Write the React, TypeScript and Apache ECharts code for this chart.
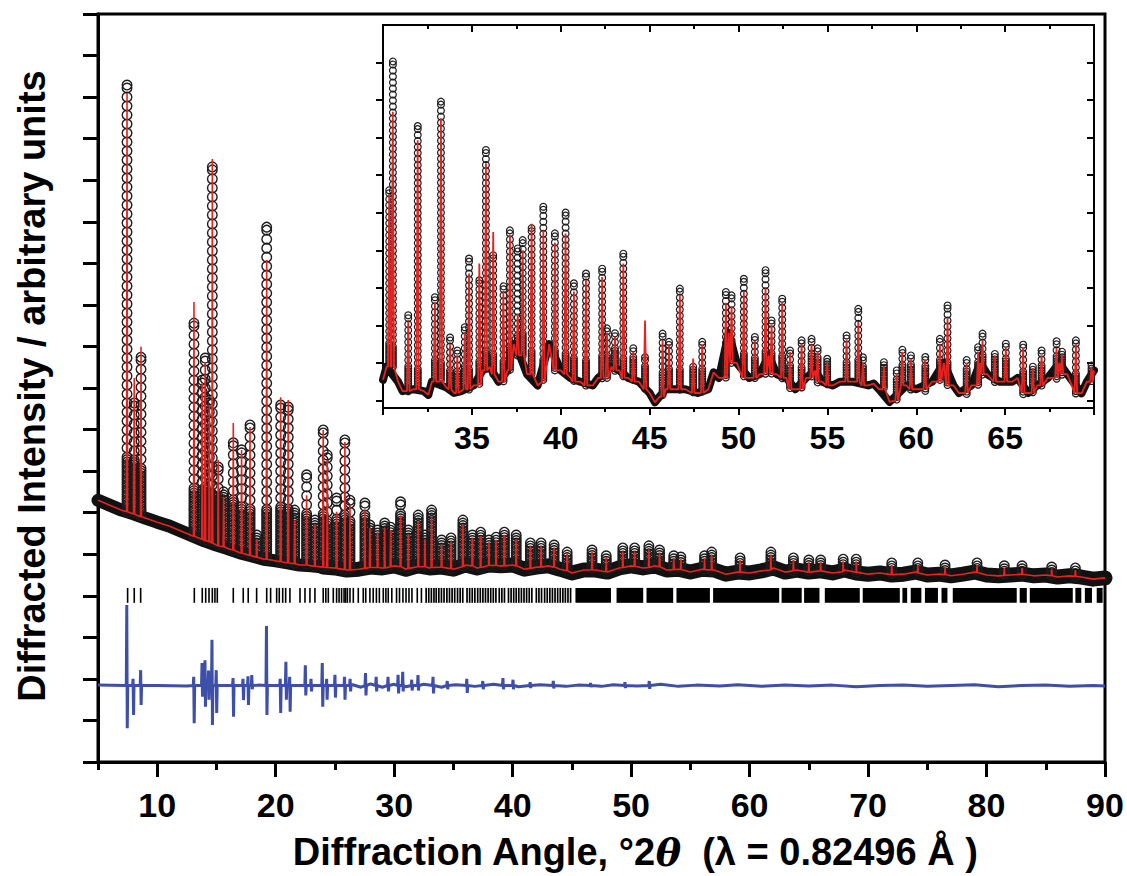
import React, { useEffect, useRef } from 'react';
import * as echarts from 'echarts';

// ---------- main pattern (y in arbitrary units, axis 0..18) ----------
const mainBandX = [5, 6, 7, 8, 9, 10, 11, 12, 13, 14, 15, 16, 17, 18, 19, 20, 21, 22, 23, 24, 25, 26, 27, 28, 29, 30, 31, 32, 33, 34, 35, 36, 37, 38, 39, 40, 41, 42, 43, 44, 45, 46, 47, 48, 49, 50, 51, 52, 53, 54, 55, 56, 57, 58, 59, 60, 61, 62, 63, 64, 65, 66, 67, 68, 69, 70, 71, 72, 73, 74, 75, 76, 77, 78, 79, 80, 81, 82, 83, 84, 85, 86, 87, 88, 89, 90];
const mainBandY = [6.3, 6.18, 6.06, 5.97, 5.87, 5.77, 5.68, 5.56, 5.44, 5.32, 5.22, 5.13, 5.03, 4.96, 4.88, 4.84, 4.79, 4.74, 4.72, 4.69, 4.67, 4.62, 4.64, 4.69, 4.67, 4.72, 4.64, 4.72, 4.67, 4.69, 4.64, 4.74, 4.67, 4.74, 4.72, 4.74, 4.64, 4.69, 4.72, 4.64, 4.55, 4.62, 4.62, 4.57, 4.67, 4.72, 4.67, 4.72, 4.62, 4.64, 4.57, 4.64, 4.62, 4.52, 4.57, 4.55, 4.6, 4.67, 4.57, 4.62, 4.57, 4.6, 4.55, 4.62, 4.55, 4.52, 4.55, 4.5, 4.52, 4.57, 4.5, 4.52, 4.48, 4.52, 4.57, 4.5, 4.48, 4.5, 4.52, 4.48, 4.5, 4.45, 4.48, 4.45, 4.4, 4.43];

const mainPeakX = [7.45, 8.06, 8.63, 13.1, 13.8, 14.05, 14.4, 14.65, 15.15, 15.6, 16.42, 17.12, 17.83, 18.4, 19.24, 20.42, 21.06, 21.6, 22.61, 23.31, 24.01, 24.35, 25.14, 25.84, 26.27, 27.53, 27.95, 28.6, 29.2, 29.7, 30.54, 31.2, 32.03, 32.6, 33.16, 34.0, 34.8, 35.8, 36.6, 37.3, 38.0, 38.6, 39.3, 40.3, 41.5, 42.4, 43.5, 44.6, 46.7, 47.9, 49.3, 50.3, 51.5, 52.4, 53.6, 54.2, 56.2, 56.8, 59.2, 61.8, 63.7, 65.0, 66.0, 67.9, 69.0, 72.0, 74.2, 76.5, 79.2, 81.5, 83.0, 85.5, 87.5];
const mainPeakBase = [6.02, 5.96, 5.9, 5.43, 5.36, 5.33, 5.3, 5.27, 5.2, 5.18, 5.1, 5.03, 4.97, 4.93, 4.88, 4.82, 4.79, 4.77, 4.74, 4.71, 4.69, 4.68, 4.66, 4.63, 4.62, 4.66, 4.68, 4.68, 4.67, 4.7, 4.7, 4.66, 4.7, 4.7, 4.68, 4.69, 4.65, 4.7, 4.72, 4.68, 4.73, 4.73, 4.72, 4.72, 4.66, 4.69, 4.69, 4.6, 4.62, 4.58, 4.68, 4.71, 4.68, 4.7, 4.63, 4.63, 4.63, 4.62, 4.57, 4.62, 4.6, 4.57, 4.6, 4.58, 4.57, 4.51, 4.55, 4.51, 4.56, 4.49, 4.52, 4.48, 4.47];
const mainPeakObs = [16.29, 8.64, 9.74, 10.56, 9.19, 9.72, 8.71, 14.32, 7.1, 6.5, 7.68, 7.51, 8.11, 5.46, 12.87, 8.59, 8.54, 6.06, 6.91, 5.82, 7.99, 7.39, 6.35, 7.75, 6.3, 6.23, 5.7, 5.58, 5.75, 5.65, 6.26, 5.58, 5.94, 5.46, 6.06, 5.34, 5.39, 5.82, 5.46, 5.53, 5.34, 5.41, 5.53, 5.46, 5.27, 5.27, 5.22, 5.05, 5.1, 4.96, 5.15, 5.15, 5.2, 5.1, 4.96, 4.93, 4.96, 5.05, 4.91, 5.05, 4.91, 4.86, 4.86, 4.88, 4.88, 4.79, 4.79, 4.74, 4.79, 4.72, 4.72, 4.69, 4.67];
const mainPeakCalc = [16.1, 9.24, 9.99, 11.07, 9.12, 9.62, 8.59, 14.51, 7.27, 6.38, 8.16, 7.51, 8.06, 5.34, 12.08, 8.78, 8.71, 5.82, 6.42, 5.7, 7.99, 7.27, 6.02, 7.7, 6.18, 6.06, 5.63, 5.53, 5.63, 5.58, 5.94, 5.46, 5.77, 5.34, 5.87, 5.22, 5.29, 5.7, 5.39, 5.44, 5.29, 5.34, 5.46, 5.34, 5.2, 5.2, 5.15, 5.03, 5.05, 4.93, 5.05, 5.05, 5.1, 5.03, 4.91, 4.88, 4.91, 4.98, 4.86, 4.98, 4.86, 4.81, 4.81, 4.83, 4.83, 4.74, 4.74, 4.69, 4.74, 4.67, 4.67, 4.64, 4.62];

// reflection markers
const reflTickX = [7.5, 8.06, 8.6, 13.13, 13.8, 14.09, 14.37, 14.65, 14.87, 15.07, 16.42, 17.26, 17.68, 18.39, 19.24, 19.57, 20.08, 20.3, 20.59, 20.84, 21.2, 22.05, 22.47, 22.89, 23.31, 24.01, 24.23, 24.44, 24.86, 25.14, 25.35, 25.56, 25.77, 25.9, 26.05, 26.27, 26.55, 26.97, 27.39, 27.6, 27.95, 28.23, 28.5, 28.75, 29.08, 29.3, 29.5, 29.8, 30.2, 30.45, 30.74, 31.0, 31.25, 31.5, 31.95, 32.3];
const reflDenseStart = [32.7, 33.55, 34.45, 35.35, 36.15, 37.05, 38.87, 39.65, 40.3, 41.4, 42.0, 42.7, 43.8, 44.45];
const reflDenseEnd = [33.4, 34.3, 35.2, 36.0, 36.9, 38.6, 39.5, 40.1, 41.2, 41.8, 42.5, 43.6, 44.3, 45.06];
const reflSolidStart = [45.3, 48.77, 51.3, 53.83, 56.92, 62.7, 64.6, 66.35, 69.55, 72.9, 73.6, 74.8, 76.2, 77.15, 82.8, 83.65, 87.5, 88.3, 89.3];
const reflSolidEnd = [48.3, 51.02, 53.55, 56.65, 62.5, 64.4, 65.9, 69.3, 72.68, 73.3, 74.5, 75.9, 76.7, 82.55, 83.4, 87.28, 88.0, 88.9, 89.8];
const reflLow = 3.83;
const reflHigh = 4.19;

// difference curve: flat trace plus spikes (position, maximum, minimum)
const diffZero = 1.84;
const diffBaseX = [5, 10, 12.5, 15.5, 18.5, 22, 26.5, 27.2, 28, 29, 30, 31, 32.5, 34, 35.2, 36.8, 38.4, 40.5, 42.3, 44.5, 45.5, 47.5, 48.5, 50.5, 52.5, 54, 55.5, 57.5, 59, 61, 63, 65, 67, 69, 71, 73, 75, 77, 79, 81, 83, 85, 87, 89, 90];
const diffBaseY = [1.85, 1.84, 1.83, 1.84, 1.85, 1.84, 1.86, 1.8, 1.88, 1.8, 1.87, 1.81, 1.87, 1.8, 1.86, 1.82, 1.87, 1.81, 1.86, 1.82, 1.85, 1.82, 1.86, 1.83, 1.87, 1.82, 1.85, 1.83, 1.86, 1.82, 1.85, 1.83, 1.85, 1.81, 1.84, 1.85, 1.82, 1.84, 1.86, 1.81, 1.84, 1.85, 1.82, 1.84, 1.83];
const diffSpikeX = [7.45, 7.98, 8.62, 13.1, 13.8, 14.05, 14.35, 14.64, 15.0, 16.42, 17.26, 17.68, 18.0, 19.24, 20.4, 20.88, 21.2, 22.52, 23.0, 23.95, 24.32, 25.02, 25.83, 26.3, 27.6, 28.5, 29.5, 30.35, 30.74, 31.5, 32.03, 33.3, 34.5, 36.15, 37.5, 39.2, 40.05, 41.5, 43.45, 46.6, 49.5, 51.55];
const diffSpikeHi = [3.78, 2.0, 2.21, 2.05, 2.38, 2.45, 2.2, 2.94, 2.21, 2.02, 2.0, 2.06, 2.09, 3.27, 2.0, 2.41, 2.05, 2.33, 2.0, 2.38, 2.0, 2.1, 2.05, 2.0, 2.14, 2.05, 2.05, 2.1, 2.17, 1.98, 2.09, 2.05, 1.95, 2.0, 1.95, 2.02, 1.98, 1.92, 1.95, 1.9, 1.92, 1.95];
const diffSpikeLo = [0.81, 1.13, 1.37, 0.93, 1.57, 1.33, 1.5, 0.89, 1.18, 1.09, 1.49, 1.37, 1.75, 1.13, 1.18, 1.5, 1.21, 1.6, 1.7, 1.33, 1.5, 1.55, 1.5, 1.7, 1.6, 1.7, 1.7, 1.65, 1.7, 1.72, 1.72, 1.65, 1.75, 1.66, 1.75, 1.75, 1.75, 1.78, 1.77, 1.8, 1.78, 1.76];

// ---------- inset (30-70 deg, axis -0.2..10) ----------
const insetBandX = [30.0, 30.2, 30.85, 31.1, 31.7, 32.3, 32.55, 32.75, 33.55, 34.0, 34.4, 35.1, 35.6, 36.0, 36.5, 37.0, 37.35, 37.7, 38.1, 38.7, 39.35, 40.0, 40.55, 41.1, 41.8, 42.1, 42.85, 43.3, 43.8, 44.4, 45.0, 45.3, 45.55, 45.9, 46.4, 47.0, 47.7, 48.3, 48.6, 48.9, 49.45, 49.9, 50.6, 51.2, 51.7, 52.15, 52.7, 53.2, 53.8, 54.3, 54.7, 55.3, 55.7, 56.4, 57.3, 57.6, 57.9, 58.5, 59.45, 60.0, 60.9, 61.55, 62.1, 62.4, 63.1, 63.6, 64.0, 64.7, 65.4, 65.7, 66.3, 66.8, 67.4, 68.05, 68.5, 69.3, 69.6, 70.0];
const insetBandY = [0.55, 0.9, 0.5, 0.25, 0.3, 0.25, 0.15, 0.5, 0.35, 0.2, 0.25, 0.4, 0.8, 0.9, 0.5, 0.8, 1.5, 1.2, 0.7, 0.4, 1.5, 0.8, 0.6, 0.5, 0.4, 0.6, 0.9, 0.8, 0.6, 0.5, 0.2, -0.05, 0.1, 0.3, 0.3, 0.3, 0.2, 0.3, 0.75, 0.6, 1.8, 1.0, 0.6, 0.7, 1.2, 0.7, 0.6, 0.3, 0.6, 0.8, 0.5, 0.4, 0.5, 0.5, 0.4, 0.45, 0.3, -0.04, 0.4, 0.3, 0.5, 1.0, 0.4, 0.2, 0.4, 1.0, 0.7, 0.5, 0.5, 0.6, 0.2, 0.4, 0.6, 1.0, 0.7, 0.19, 0.5, 0.8];

const insetPeakX = [30.35, 30.55, 31.42, 31.95, 32.92, 33.26, 33.77, 34.18, 34.6, 34.84, 35.42, 35.79, 36.2, 36.77, 37.14, 37.58, 37.86, 38.36, 39.02, 39.67, 40.27, 40.74, 41.42, 42.33, 42.6, 43.05, 43.52, 44.08, 44.74, 45.73, 46.09, 46.7, 47.45, 47.96, 49.29, 49.61, 50.3, 50.92, 51.52, 51.86, 52.46, 52.9, 53.55, 54.11, 54.45, 54.99, 56.08, 56.74, 57.0, 58.18, 58.9, 59.21, 59.7, 60.49, 61.33, 61.76, 62.83, 63.48, 63.73, 64.42, 65.04, 66.01, 66.56, 67.05, 67.89, 68.2, 68.98, 69.86];
const insetPeakBase = [0.9, 0.9, 0.25, 0.3, 0.5, 0.5, 0.3, 0.2, 0.3, 0.3, 0.4, 0.8, 0.7, 0.5, 0.8, 1.2, 1.2, 0.7, 0.5, 0.8, 0.7, 0.5, 0.4, 0.6, 0.6, 0.8, 0.6, 0.5, 0.3, 0.1, 0.3, 0.3, 0.2, 0.2, 0.6, 1.0, 0.6, 0.6, 0.7, 0.7, 0.6, 0.3, 0.3, 0.6, 0.5, 0.4, 0.5, 0.5, 0.4, 0.3, 0.0, 0.4, 0.3, 0.3, 0.5, 0.4, 0.2, 0.4, 0.7, 0.5, 0.5, 0.2, 0.2, 0.4, 0.6, 0.7, 0.2, 0.5];
const insetPeakObs = [5.6, 9.05, 2.27, 7.33, 2.75, 7.96, 1.69, 1.33, 1.95, 3.78, 3.2, 6.67, 3.87, 3.07, 4.53, 4.05, 4.27, 4.59, 5.16, 4.45, 5.02, 3.12, 3.38, 3.51, 1.92, 1.79, 3.91, 1.39, 1.15, 1.78, 1.56, 2.98, 0.9, 1.56, 2.89, 2.8, 3.24, 1.69, 3.47, 2.13, 2.71, 1.33, 1.6, 1.64, 1.4, 1.11, 1.73, 2.44, 1.15, 1.02, 0.8, 1.38, 1.2, 1.2, 1.64, 2.53, 1.1, 1.42, 1.78, 1.24, 1.51, 1.51, 0.9, 1.33, 1.6, 1.3, 1.6, 0.93];
const insetPeakCalc = [5.5, 7.69, 2.1, 6.93, 2.6, 7.51, 1.5, 1.2, 1.8, 3.38, 3.65, 6.32, 4.49, 2.9, 4.4, 2.3, 4.0, 4.71, 4.53, 4.2, 4.45, 2.9, 3.2, 3.29, 1.8, 1.7, 3.65, 1.3, 2.13, 1.6, 1.5, 2.8, 1.12, 1.5, 2.6, 2.5, 2.9, 1.6, 2.98, 2.0, 2.6, 1.3, 1.5, 1.5, 1.3, 1.0, 1.6, 2.09, 1.0, 0.9, 0.7, 1.3, 1.1, 1.1, 1.5, 2.18, 1.0, 1.3, 1.6, 1.2, 1.4, 1.4, 0.85, 1.2, 1.4, 1.2, 1.5, 0.9];

// axis ticks / labels
const mainMajorTicks = [10, 20, 30, 40, 50, 60, 70, 80, 90];
const insetYTicks = [0, 1, 2, 3, 4, 5, 6, 7, 8, 9];

const FONT = '"Liberation Sans", Arial, sans-serif';
const RED = '#e8231f';
const BLUE = '#3d4fa8';

function profile(bx: number[], by: number[], px: number[], pb: number[], pt: number[], hw: number) {
  const pts: number[][] = bx.map((x, i) => [x, by[i]]);
  px.forEach((x, i) => {
    pts.push([x - hw, pb[i]], [x, pt[i]], [x + hw, pb[i]]);
  });
  pts.sort((a, b) => a[0] - b[0]);
  return pts;
}

function columnRender(r: number, step: number, dense: number, lw: number) {
  return (params: any, api: any) => {
    const x = api.value(0);
    const base = api.value(1);
    const top = api.value(2);
    const pb = api.coord([x, base]);
    const pt = api.coord([x, top]);
    const children: any[] = [];
    let y = pt[1];
    let k = 0;
    while (y <= pb[1] + 0.5) {
      children.push({
        type: 'circle',
        shape: { cx: pt[0], cy: y, r },
        style: { fill: 'none', stroke: '#1c1c1c', lineWidth: lw },
      });
      const rem = pb[1] - y;
      y += k === 0 ? 3 : rem < dense ? 2.5 : step;
      k++;
    }
    return { type: 'group', children };
  };
}

export default function App() {
  const ref = useRef<HTMLDivElement>(null);
  useEffect(() => {
    document.body.style.margin = '0';
    const chart = echarts.init(ref.current!, null, { renderer: 'svg' });

    const mainCalc = profile(mainBandX, mainBandY, mainPeakX, mainPeakBase, mainPeakCalc, 0.04);
    const mainBand = mainBandX.map((x, i) => [x, mainBandY[i]]);
    const splitIdx = mainBandX.indexOf(24);
    const mainBandLow = mainBand.slice(0, splitIdx + 1);
    const mainBandHigh = mainBand.slice(splitIdx);
    const mainCols = mainPeakX.map((x, i) => [x, mainPeakBase[i], mainPeakObs[i]]);
    const insetCalc = profile(insetBandX, insetBandY, insetPeakX, insetPeakBase, insetPeakCalc, 0.07);
    const insetBand = insetBandX.map((x, i) => [x, insetBandY[i]]);
    const insetCols = insetPeakX.map((x, i) => [x, insetPeakBase[i], insetPeakObs[i]]);
    const diff: number[][] = diffBaseX.map((x, i) => [x, diffBaseY[i]]);
    diffSpikeX.forEach((x, i) => {
      diff.push([x - 0.06, diffZero], [x - 0.02, diffSpikeHi[i]], [x + 0.02, diffSpikeLo[i]], [x + 0.06, diffZero]);
    });
    diff.sort((a, b) => a[0] - b[0]);
    const denseBlocks = reflDenseStart.map((s, i) => [s, reflDenseEnd[i]]);
    const solidBlocks = reflSolidStart.map((s, i) => [s, reflSolidEnd[i]]);

    const axLine = (w: number) => ({ show: true, onZero: false, lineStyle: { color: '#000', width: w } });

    chart.setOption({
      animation: false,
      backgroundColor: '#fff',
      grid: [
        { left: 98, top: 14, width: 1007, height: 748, show: true, borderColor: '#000', borderWidth: 3, backgroundColor: 'transparent' },
        { left: 383, top: 25, width: 711, height: 383, show: true, borderColor: '#000', borderWidth: 2, backgroundColor: '#fff' },
      ],
      xAxis: [
        {
          gridIndex: 0, type: 'value', min: 5, max: 90, interval: 5, position: 'bottom',
          axisLine: axLine(3),
          axisTick: { show: true, length: 8, lineStyle: { color: '#000', width: 3 } },
          axisLabel: {
            color: '#000', fontSize: 34, fontWeight: 'bold', fontFamily: FONT, margin: 26,
            formatter: (v: number) => (v % 10 === 0 ? String(v) : ''),
          },
          splitLine: { show: false },
        },
        {
          gridIndex: 0, type: 'value', min: 5, max: 90, position: 'bottom',
          axisLine: { show: false },
          axisTick: { show: true, length: 15, customValues: mainMajorTicks, lineStyle: { color: '#000', width: 3 } },
          axisLabel: { show: false },
          splitLine: { show: false },
        },
        {
          gridIndex: 1, type: 'value', min: 30, max: 70, interval: 5, position: 'bottom',
          axisLine: axLine(2),
          axisTick: { show: true, length: 7, lineStyle: { color: '#000', width: 2 } },
          minorTick: { show: true, splitNumber: 2, length: 4, lineStyle: { color: '#000', width: 2 } },
          axisLabel: { color: '#000', fontSize: 32, fontWeight: 'bold', fontFamily: FONT, margin: 14, showMinLabel: false, showMaxLabel: false },
          splitLine: { show: false },
          minorSplitLine: { show: false },
        },
        {
          gridIndex: 1, type: 'value', min: 30, max: 70, interval: 5, position: 'top',
          axisLine: axLine(2),
          axisTick: { show: true, inside: true, length: 7, lineStyle: { color: '#000', width: 2 } },
          minorTick: { show: true, splitNumber: 2, length: 4, lineStyle: { color: '#000', width: 2 } },
          axisLabel: { show: false },
          splitLine: { show: false },
          minorSplitLine: { show: false },
        },
      ],
      yAxis: [
        {
          gridIndex: 0, type: 'value', min: 0, max: 18, interval: 1,
          axisLine: axLine(3),
          axisTick: { show: true, length: 15, lineStyle: { color: '#000', width: 3 } },
          axisLabel: { show: false },
          splitLine: { show: false },
        },
        {
          gridIndex: 1, type: 'value', min: -0.2, max: 10, position: 'left',
          axisLine: axLine(2),
          axisTick: { show: true, length: 7, customValues: insetYTicks, lineStyle: { color: '#000', width: 2 } },
          axisLabel: { show: false },
          splitLine: { show: false },
        },
        {
          gridIndex: 1, type: 'value', min: -0.2, max: 10, position: 'right',
          axisLine: axLine(2),
          axisTick: { show: true, inside: true, length: 7, customValues: insetYTicks, lineStyle: { color: '#000', width: 2 } },
          axisLabel: { show: false },
          splitLine: { show: false },
        },
      ],
      series: [
        {
          type: 'line', xAxisIndex: 0, yAxisIndex: 0, data: mainBandLow, showSymbol: false, silent: true, z: 2,
          lineStyle: { color: '#111', width: 13, join: 'round', cap: 'round' },
        },
        {
          type: 'line', xAxisIndex: 0, yAxisIndex: 0, data: mainBandHigh, showSymbol: false, silent: true, z: 2,
          lineStyle: { color: '#111', width: 15, join: 'round', cap: 'round' },
        },
        {
          type: 'custom', xAxisIndex: 0, yAxisIndex: 0, data: mainCols, clip: true, silent: true, z: 3,
          encode: { x: 0, y: [1, 2] },
          renderItem: columnRender(4.8, 9, 55, 1.4),
        },
        {
          type: 'line', xAxisIndex: 0, yAxisIndex: 0, data: mainCalc, showSymbol: false, silent: true, z: 4,
          lineStyle: { color: RED, width: 1.6 },
        },
        {
          type: 'custom', xAxisIndex: 0, yAxisIndex: 0, data: reflTickX.map((x) => [x]), silent: true, z: 3,
          encode: { x: 0 },
          renderItem: (params: any, api: any) => {
            const x = api.value(0);
            const p0 = api.coord([x, reflLow]);
            const p1 = api.coord([x, reflHigh]);
            return { type: 'line', shape: { x1: p0[0], y1: p0[1], x2: p1[0], y2: p1[1] }, style: { stroke: '#000', lineWidth: 1.6 } };
          },
        },
        {
          type: 'custom', xAxisIndex: 0, yAxisIndex: 0, data: denseBlocks, silent: true, z: 3,
          encode: { x: [0, 1] },
          renderItem: (params: any, api: any) => {
            const p0 = api.coord([api.value(0), reflHigh]);
            const p1 = api.coord([api.value(1), reflLow]);
            const children: any[] = [];
            for (let xx = p0[0]; xx <= p1[0]; xx += 2.6) {
              children.push({ type: 'line', shape: { x1: xx, y1: p0[1], x2: xx, y2: p1[1] }, style: { stroke: '#000', lineWidth: 1.7 } });
            }
            return { type: 'group', children };
          },
        },
        {
          type: 'custom', xAxisIndex: 0, yAxisIndex: 0, data: solidBlocks, silent: true, z: 3,
          encode: { x: [0, 1] },
          renderItem: (params: any, api: any) => {
            const p0 = api.coord([api.value(0), reflHigh]);
            const p1 = api.coord([api.value(1), reflLow]);
            return { type: 'rect', shape: { x: p0[0], y: p0[1], width: p1[0] - p0[0], height: p1[1] - p0[1] }, style: { fill: '#000' } };
          },
        },
        {
          type: 'line', xAxisIndex: 0, yAxisIndex: 0, data: diff, showSymbol: false, silent: true, z: 4,
          lineStyle: { color: BLUE, width: 3 },
        },
        {
          type: 'line', xAxisIndex: 2, yAxisIndex: 1, data: insetBand, showSymbol: false, silent: true, z: 5,
          lineStyle: { color: '#111', width: 8, join: 'round', cap: 'round' },
        },
        {
          type: 'custom', xAxisIndex: 2, yAxisIndex: 1, data: insetCols, clip: true, silent: true, z: 6,
          encode: { x: 0, y: [1, 2] },
          renderItem: columnRender(3.4, 6, 25, 1.2),
        },
        {
          type: 'line', xAxisIndex: 2, yAxisIndex: 1, data: insetCalc, showSymbol: false, silent: true, z: 7,
          lineStyle: { color: RED, width: 1.8 },
        },
      ],
      graphic: [
        {
          type: 'text', x: 635, y: 852, silent: true,
          style: {
            text: 'Diffraction Angle, °2{i|θ}  (λ = 0.82496 Å )',
            fontSize: 38, fontWeight: 'bold', fontFamily: FONT, fill: '#000',
            align: 'center', verticalAlign: 'middle',
            rich: { i: { fontStyle: 'italic', fontSize: 38, fontWeight: 'bold', fontFamily: '"DejaVu Serif", serif', fill: '#000' } },
          },
        },
        {
          type: 'text', x: 32, y: 386, rotation: Math.PI / 2, silent: true,
          style: {
            text: 'Diffracted Intensity / arbitrary units',
            fontSize: 38, fontWeight: 'bold', fontFamily: FONT, fill: '#000',
            align: 'center', verticalAlign: 'middle',
          },
        },
      ],
    });
    return () => chart.dispose();
  }, []);
  return <div ref={ref} style={{ width: 1127, height: 876 }} />;
}
